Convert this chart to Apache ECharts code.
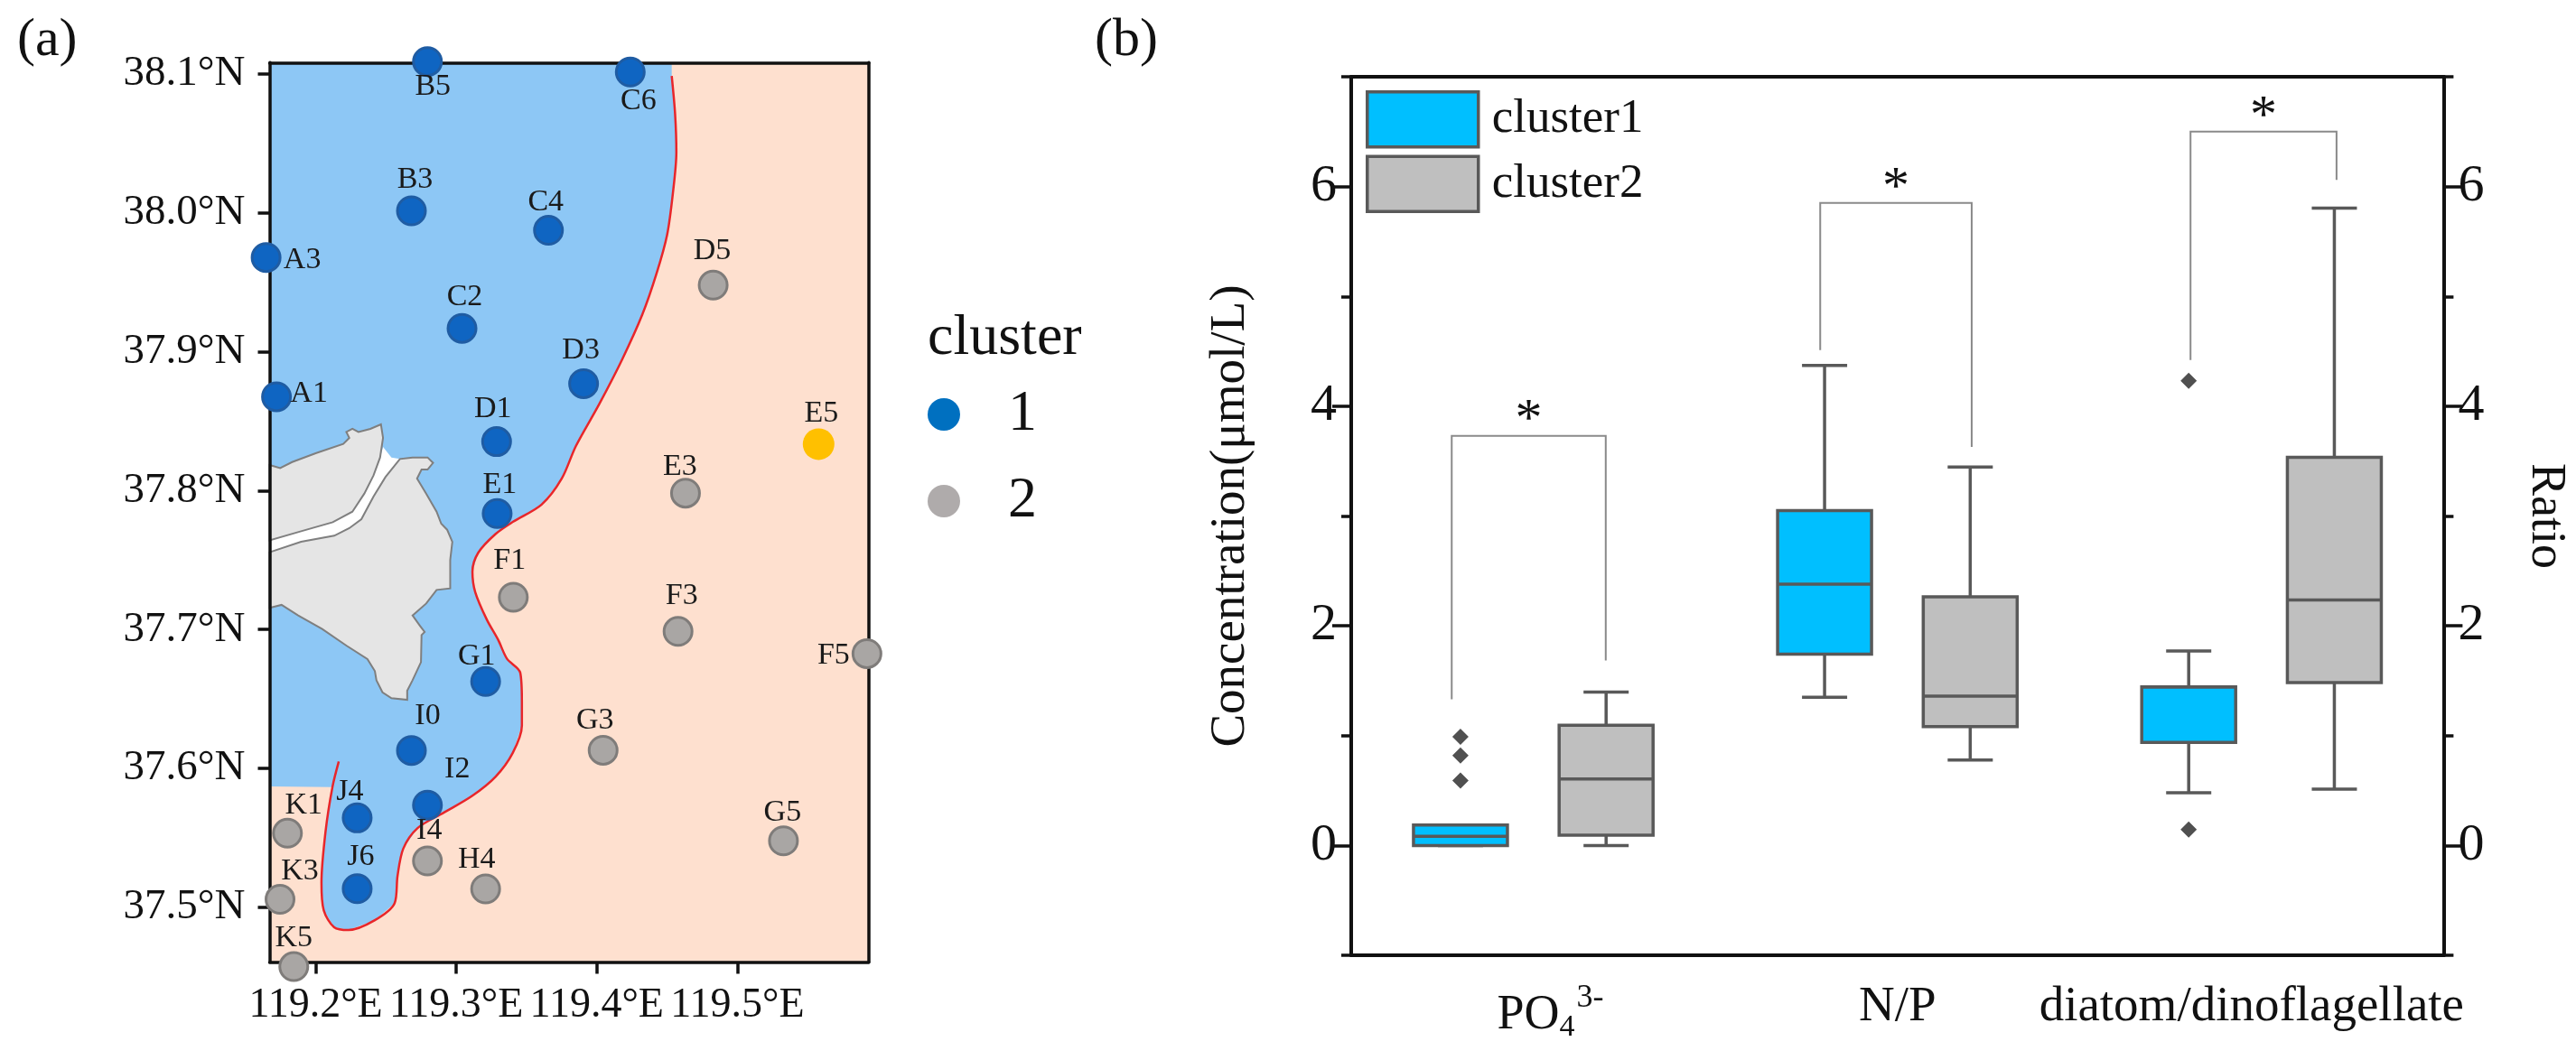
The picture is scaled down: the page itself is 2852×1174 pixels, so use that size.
<!DOCTYPE html>
<html>
<head>
<meta charset="utf-8">
<title>cluster map and boxplot</title>
<script src="https://cdn.jsdelivr.net/npm/echarts@6/dist/echarts.min.js"></script>
<style>
  html, body { margin: 0; padding: 0; background: #fff; }
  #chart { width: 2852px; height: 1174px; }
</style>
</head>
<body>
<div id="chart"></div>
<script>
const SERIF = '"Liberation Serif", "Times New Roman", serif'

// (a) stations, lon / lat
const cluster1Names = ['B5', 'C6', 'B3', 'C4', 'A3', 'C2', 'D3', 'A1', 'D1', 'E1', 'G1', 'I0', 'I2', 'J4', 'J6']
const cluster1Lon = [119.2795, 119.4238, 119.2681, 119.3656, 119.1647, 119.3041, 119.3906, 119.1721, 119.3287, 119.3291, 119.3209, 119.2681, 119.2795, 119.2295, 119.2295]
const cluster1Lat = [38.1087, 38.1012, 38.0013, 37.9873, 37.9677, 37.9167, 37.8769, 37.8675, 37.8352, 37.7834, 37.6626, 37.6129, 37.5736, 37.5644, 37.5134]

const cluster2Names = ['D5', 'E3', 'F1', 'F3', 'F5', 'G3', 'K1', 'G5', 'I4', 'H4', 'K3', 'K5']
const cluster2Lon = [119.4828, 119.4631, 119.3406, 119.4578, 119.5922, 119.4045, 119.1799, 119.5328, 119.2795, 119.3209, 119.1746, 119.1844]
const cluster2Lat = [37.9478, 37.7981, 37.7232, 37.6986, 37.6826, 37.6131, 37.5534, 37.5479, 37.5334, 37.5133, 37.5058, 37.4574]

const e5Lon = [119.5578]
const e5Lat = [37.8334]

const lonTicks = [119.2, 119.3, 119.4, 119.5]
const latTicks = [37.5, 37.6, 37.7, 37.8, 37.9, 38.0, 38.1]

// red boundary of the blue water mass
const boundaryLon = [119.4533, 119.4557, 119.4566, 119.4541, 119.45, 119.4426, 119.4324, 119.418, 119.4016, 119.3852, 119.375, 119.3607, 119.3402, 119.3279, 119.3156, 119.3115, 119.3135, 119.3217, 119.3299, 119.3361, 119.3455, 119.3467, 119.3467, 119.3402, 119.3279, 119.3115, 119.291, 119.2725, 119.2623, 119.2582, 119.2561, 119.2418, 119.2234, 119.2131, 119.2057, 119.2041, 119.207, 119.2119, 119.2164]
const boundaryLat = [38.0983, 38.0709, 38.0435, 38.0137, 37.9839, 37.9565, 37.9267, 37.8943, 37.862, 37.8322, 37.8085, 37.7899, 37.7774, 37.7687, 37.7552, 37.7416, 37.7269, 37.7072, 37.6924, 37.6789, 37.669, 37.6481, 37.6309, 37.6112, 37.594, 37.5804, 37.5681, 37.5571, 37.5423, 37.5226, 37.5029, 37.4906, 37.4837, 37.4857, 37.498, 37.5177, 37.5546, 37.5866, 37.605]

const landNorth = [[119.1672,37.8184],[119.1747,37.8162],[119.1832,37.8205],[119.2004,37.827],[119.2196,37.8335],[119.2239,37.8379],[119.2218,37.8422],[119.2261,37.8444],[119.2304,37.8422],[119.2389,37.8444],[119.2464,37.8476],[119.2479,37.8379],[119.2458,37.8238],[119.2411,37.8108],[119.2346,37.7978],[119.2261,37.7848],[119.2121,37.7772],[119.1896,37.7707],[119.1672,37.7642]]
const landSouth = [[119.1672,37.7556],[119.1896,37.7631],[119.2132,37.7675],[119.2239,37.7729],[119.2325,37.7794],[119.2411,37.7956],[119.2496,37.8097],[119.2599,37.8227],[119.2689,37.8238],[119.2796,37.8238],[119.2835,37.8199],[119.2796,37.8151],[119.2753,37.8151],[119.2721,37.8086],[119.2786,37.7978],[119.286,37.7848],[119.2893,37.7761],[119.2935,37.7718],[119.2972,37.7631],[119.2957,37.7501],[119.2957,37.7296],[119.286,37.7285],[119.2786,37.7187],[119.2689,37.7101],[119.2743,37.7025],[119.2775,37.6982],[119.2753,37.696],[119.2749,37.6765],[119.2689,37.6635],[119.2651,37.6559],[119.2651,37.6494],[119.2539,37.6505],[119.2475,37.6548],[119.2432,37.6635],[119.2421,37.67],[119.2368,37.6787],[119.2218,37.6884],[119.2046,37.7003],[119.1875,37.7101],[119.1757,37.7177],[119.1672,37.7155]]
const riverMouth = [[119.2539,37.8238],[119.2479,37.8314]]

// (b) box values
const categories = ['PO43-', 'N/P', 'diatom/dinoflagellate']
const cluster1Low = [0, 1.35, 0.479]
const cluster1Q1 = [0, 1.742, 0.939]
const cluster1Median = [0.084, 2.38, 1.444]
const cluster1Q3 = [0.186, 3.05, 1.444]
const cluster1High = [0.186, 4.37, 1.771]

const cluster2Low = [0, 0.777, 0.513]
const cluster2Q1 = [0.093, 1.083, 1.484]
const cluster2Median = [0.606, 1.36, 2.235]
const cluster2Q3 = [1.095, 2.265, 3.534]
const cluster2High = [1.397, 3.446, 5.804]

const outlierCategory = [0, 0, 0, 2, 2]
const outlierValues = [0.99, 0.82, 0.59, 4.232, 0.145]

const bracketLeftX = [-0.224, 0.788, 1.805]
const bracketRightX = [0.199, 1.204, 2.206]
const bracketTop = [3.73, 5.85, 6.5]
const bracketLeftEnd = [1.33, 4.51, 4.42]
const bracketRightEnd = [1.685, 3.63, 6.06]

const majorTicks = [0, 2, 4, 6]

// label nudges in px
const labelOffsets = {
  B5: [6, 28], C6: [9, 32], B3: [4, -34], C4: [-3, -31], A3: [40, 3], D5: [-1, -38], C2: [3, -35],
  D3: [-3, -37], A1: [36, -3], D1: [-4, -36], E5: [3, -34], E3: [-6, -29], E1: [3, -32], F1: [-4, -40],
  F3: [4, -39], F5: [-37, 2], G1: [-10, -28], I0: [18, -38], G3: [-9, -33], I2: [33, -40], J4: [-8, -29],
  K1: [18, -31], G5: [-1, -31], I4: [2, -33], H4: [-10, -32], J6: [4, -35], K3: [22, -31], K5: [0, -31]
}

const stationData = (names, lon, lat) =>
  names.map((name, i) => ({
    name,
    value: [lon[i], lat[i]],
    label: { offset: labelOffsets[name] }
  }))

const stationLabel = {
  show: true,
  position: 'inside',
  formatter: '{b}',
  fontFamily: SERIF,
  fontSize: 34,
  color: '#1a1a1a'
}

const polygonSeries = (name, points, fill, stroke, z) => ({
  name,
  type: 'custom',
  coordinateSystem: 'cartesian2d',
  xAxisIndex: 0,
  yAxisIndex: 0,
  z,
  silent: true,
  data: [0],
  renderItem: (params, api) => ({
    type: 'polygon',
    shape: { points: points.map((p) => api.coord(p)) },
    style: { fill, stroke: stroke || null, lineWidth: stroke ? 2 : 0 }
  })
})

const blueArea = [[119.1672, 38.108], [119.4533, 38.108]]
  .concat(boundaryLon.slice(0, -1).map((lon, i) => [lon, boundaryLat[i]]))
  .concat([[119.1672, 37.5871]])

const riverArea = landNorth.slice(12).concat(landSouth.slice(0, 8)).concat(riverMouth)

const boxSeries = (name, xShift, low, q1, median, q3, high, fill) => ({
  name,
  type: 'custom',
  coordinateSystem: 'cartesian2d',
  xAxisIndex: 3,
  yAxisIndex: 2,
  z: 3,
  itemStyle: { color: fill, borderColor: '#595959', borderWidth: 3 },
  data: categories.map((c, i) => [i + xShift, low[i], q1[i], median[i], q3[i], high[i]]),
  encode: { x: 0, y: [1, 2, 3, 4, 5] },
  renderItem: (params, api) => {
    const x = api.value(0)
    const halfBox = 0.129
    const halfCap = 0.062
    const line = (x1, y1, x2, y2) => {
      const a = api.coord([x1, y1])
      const b = api.coord([x2, y2])
      return {
        type: 'line',
        shape: { x1: a[0], y1: a[1], x2: b[0], y2: b[1] },
        style: { stroke: '#595959', lineWidth: 3.5 }
      }
    }
    const tl = api.coord([x - halfBox, api.value(4)])
    const br = api.coord([x + halfBox, api.value(2)])
    return {
      type: 'group',
      children: [
        line(x, api.value(1), x, api.value(5)),
        line(x - halfCap, api.value(1), x + halfCap, api.value(1)),
        line(x - halfCap, api.value(5), x + halfCap, api.value(5)),
        {
          type: 'rect',
          shape: { x: tl[0], y: tl[1], width: br[0] - tl[0], height: br[1] - tl[1] },
          style: { fill, stroke: '#595959', lineWidth: 3.5 }
        },
        line(x - halfBox, api.value(3), x + halfBox, api.value(3))
      ]
    }
  }
})

const chart = echarts.init(document.getElementById('chart'), null, { renderer: 'canvas' })

const option = {
  animation: false,
  backgroundColor: '#fff',
  textStyle: { fontFamily: SERIF, color: '#111' },
  title: [
    { text: '(a)', left: 14, top: 10, textStyle: { fontFamily: SERIF, fontSize: 60, fontWeight: 'normal', color: '#111' } },
    { text: '(b)', left: 1207, top: 10, textStyle: { fontFamily: SERIF, fontSize: 60, fontWeight: 'normal', color: '#111' } },
    { text: 'cluster', left: 1022, top: 338, textStyle: { fontFamily: SERIF, fontSize: 64, fontWeight: 'normal', color: '#111' } }
  ],
  legend: [
    {
      orient: 'vertical',
      left: 1022,
      top: 422,
      itemWidth: 36,
      itemHeight: 36,
      itemGap: 32,
      icon: 'circle',
      selectedMode: false,
      textStyle: { fontFamily: SERIF, fontSize: 64, color: '#111', padding: [0, 0, 0, 48] },
      data: [
        { name: '1', itemStyle: { color: '#0070C0', borderWidth: 0 } },
        { name: '2', itemStyle: { color: '#AFABAB', borderWidth: 0 } }
      ]
    },
    {
      orient: 'vertical',
      left: 1507,
      top: 95,
      itemWidth: 123,
      itemHeight: 61,
      itemGap: 7,
      icon: 'rect',
      selectedMode: false,
      textStyle: { fontFamily: SERIF, fontSize: 53, color: '#111', padding: [0, 0, 0, 10] },
      data: [
        { name: 'cluster1', itemStyle: { color: '#00BFFF', borderColor: '#595959', borderWidth: 3.5 } },
        { name: 'cluster2', itemStyle: { color: '#BFBFBF', borderColor: '#595959', borderWidth: 3.5 } }
      ]
    }
  ],
  grid: [
    { left: 298.5, top: 69.3, width: 663.2, height: 996.3, show: true, backgroundColor: '#FEE0CF', borderWidth: 0 },
    { left: 1496, top: 85, width: 1209.4, height: 973 }
  ],
  xAxis: [
    {
      type: 'value',
      gridIndex: 0,
      position: 'bottom',
      min: 119.1672,
      max: 119.5934,
      z: 5,
      splitLine: { show: false },
      axisLine: { onZero: false, lineStyle: { color: '#111', width: 3.5 } },
      axisTick: { customValues: lonTicks, length: 13, lineStyle: { color: '#111', width: 3.5 } },
      axisLabel: {
        customValues: lonTicks,
        margin: 25,
        fontFamily: SERIF,
        fontSize: 46,
        color: '#111',
        formatter: (v) => v.toFixed(1) + '°E'
      }
    },
    {
      type: 'value',
      gridIndex: 0,
      position: 'top',
      min: 119.1672,
      max: 119.5934,
      z: 5,
      splitLine: { show: false },
      axisLine: { onZero: false, lineStyle: { color: '#111', width: 3.5 } },
      axisTick: { show: false },
      axisLabel: { show: false }
    },
    {
      type: 'category',
      gridIndex: 1,
      position: 'bottom',
      data: categories,
      axisLine: { onZero: false, lineStyle: { color: '#111', width: 4 } },
      axisTick: { alignWithLabel: true, length: 20, lineStyle: { color: '#111', width: 3.5 } },
      axisLabel: {
        margin: 30,
        fontFamily: SERIF,
        fontSize: 55,
        color: '#111',
        interval: 0,
        formatter: (v) => {
          if (v === categories[0]) return '{po|PO}{sub|4}{sup|3-}'
          if (v === categories[2]) return '{shift|' + v + '}'
          return v
        },
        rich: {
          po: { fontFamily: SERIF, fontSize: 54, color: '#111', padding: [0, 0, 0, 38] },
          sub: { fontFamily: SERIF, fontSize: 34, color: '#111', padding: [26, 0, 0, 0] },
          sup: { fontFamily: SERIF, fontSize: 36, color: '#111', padding: [0, 0, 38, 2] },
          shift: { fontFamily: SERIF, fontSize: 55, color: '#111', padding: [0, 22, 0, 0] }
        }
      }
    },
    {
      type: 'value',
      gridIndex: 1,
      position: 'top',
      min: -0.5,
      max: 2.5,
      splitLine: { show: false },
      axisLine: { onZero: false, lineStyle: { color: '#111', width: 4 } },
      axisTick: { show: false },
      axisLabel: { show: false }
    }
  ],
  yAxis: [
    {
      type: 'value',
      gridIndex: 0,
      position: 'left',
      min: 37.4606,
      max: 38.108,
      z: 5,
      splitLine: { show: false },
      axisLine: { onZero: false, lineStyle: { color: '#111', width: 3.5 } },
      axisTick: { customValues: latTicks, length: 13, lineStyle: { color: '#111', width: 3.5 } },
      axisLabel: {
        customValues: latTicks,
        margin: 27,
        fontFamily: SERIF,
        fontSize: 47,
        color: '#111',
        formatter: (v) => v.toFixed(1) + '°N'
      }
    },
    {
      type: 'value',
      gridIndex: 0,
      position: 'right',
      min: 37.4606,
      max: 38.108,
      z: 5,
      splitLine: { show: false },
      axisLine: { onZero: false, lineStyle: { color: '#111', width: 3.5 } },
      axisTick: { show: false },
      axisLabel: { show: false }
    },
    {
      type: 'value',
      gridIndex: 1,
      position: 'left',
      min: -1,
      max: 7,
      name: 'Concentration(μmol/L)',
      nameLocation: 'middle',
      nameGap: 106,
      nameRotate: 90,
      nameTextStyle: { fontFamily: SERIF, fontSize: 55, color: '#111' },
      splitLine: { show: false },
      axisLine: { onZero: false, lineStyle: { color: '#111', width: 4 } },
      axisTick: { customValues: majorTicks, length: 21, lineStyle: { color: '#111', width: 3.5 } },
      axisLabel: { customValues: majorTicks, margin: 16, fontFamily: SERIF, fontSize: 58, color: '#111' }
    },
    {
      type: 'value',
      gridIndex: 1,
      position: 'left',
      min: -1,
      max: 7,
      interval: 1,
      splitLine: { show: false },
      axisLine: { show: false, onZero: false },
      axisTick: { length: 11, lineStyle: { color: '#111', width: 3.5 } },
      axisLabel: { show: false }
    },
    {
      type: 'value',
      gridIndex: 1,
      position: 'right',
      min: -1,
      max: 7,
      name: 'Ratio',
      nameLocation: 'middle',
      nameGap: 86,
      nameRotate: -90,
      nameTextStyle: { fontFamily: SERIF, fontSize: 54, color: '#111' },
      splitLine: { show: false },
      axisLine: { onZero: false, lineStyle: { color: '#111', width: 4 } },
      axisTick: { customValues: majorTicks, length: 21, lineStyle: { color: '#111', width: 3.5 } },
      axisLabel: { customValues: majorTicks, margin: 16, fontFamily: SERIF, fontSize: 58, color: '#111' }
    },
    {
      type: 'value',
      gridIndex: 1,
      position: 'right',
      min: -1,
      max: 7,
      interval: 1,
      splitLine: { show: false },
      axisLine: { show: false, onZero: false },
      axisTick: { length: 11, lineStyle: { color: '#111', width: 3.5 } },
      axisLabel: { show: false }
    }
  ],
  series: [
    polygonSeries('water', blueArea, '#8DC7F5', null, 1),
    polygonSeries('river', riverArea, '#FFFFFF', null, 1),
    polygonSeries('land north', landNorth, '#E5E5E5', '#7f7f7f', 1),
    polygonSeries('land south', landSouth, '#E5E5E5', '#7f7f7f', 1),
    {
      name: 'boundary',
      type: 'line',
      xAxisIndex: 0,
      yAxisIndex: 0,
      z: 2,
      smooth: 0.3,
      showSymbol: false,
      silent: true,
      lineStyle: { color: '#E8262A', width: 2.5 },
      data: boundaryLon.map((lon, i) => [lon, boundaryLat[i]])
    },
    {
      name: '1',
      type: 'scatter',
      xAxisIndex: 0,
      yAxisIndex: 0,
      z: 6,
      symbolSize: 31,
      clip: false,
      itemStyle: { color: '#0F65C2', borderColor: '#1F5CA3', borderWidth: 3, opacity: 1 },
      label: stationLabel,
      data: stationData(cluster1Names, cluster1Lon, cluster1Lat)
    },
    {
      name: '2',
      type: 'scatter',
      xAxisIndex: 0,
      yAxisIndex: 0,
      z: 6,
      symbolSize: 31,
      clip: false,
      itemStyle: { color: '#A9A6A4', borderColor: '#7F7C7A', borderWidth: 3, opacity: 1 },
      label: stationLabel,
      data: stationData(cluster2Names, cluster2Lon, cluster2Lat)
    },
    {
      name: 'E5',
      type: 'scatter',
      xAxisIndex: 0,
      yAxisIndex: 0,
      z: 6,
      symbolSize: 35,
      itemStyle: { color: '#FFC000', opacity: 1 },
      label: stationLabel,
      data: stationData(['E5'], e5Lon, e5Lat)
    },
    boxSeries('cluster1', -0.2, cluster1Low, cluster1Q1, cluster1Median, cluster1Q3, cluster1High, '#00BFFF'),
    boxSeries('cluster2', 0.2, cluster2Low, cluster2Q1, cluster2Median, cluster2Q3, cluster2High, '#BFBFBF'),
    {
      name: 'outliers',
      type: 'scatter',
      xAxisIndex: 3,
      yAxisIndex: 2,
      z: 4,
      symbol: 'diamond',
      symbolSize: 18,
      itemStyle: { color: '#505050', opacity: 1 },
      data: outlierValues.map((v, i) => [outlierCategory[i] - 0.2, v])
    },
    {
      name: 'brackets',
      type: 'custom',
      coordinateSystem: 'cartesian2d',
      xAxisIndex: 3,
      yAxisIndex: 2,
      z: 4,
      silent: true,
      data: bracketTop.map((top, i) => [bracketLeftX[i], bracketRightX[i], top, bracketLeftEnd[i], bracketRightEnd[i]]),
      encode: { x: [0, 1], y: [2, 3, 4] },
      renderItem: (params, api) => {
        const a = api.coord([api.value(0), api.value(3)])
        const b = api.coord([api.value(0), api.value(2)])
        const c = api.coord([api.value(1), api.value(2)])
        const d = api.coord([api.value(1), api.value(4)])
        return {
          type: 'group',
          children: [
            {
              type: 'polyline',
              shape: { points: [a, b, c, d] },
              style: { fill: null, stroke: '#8a8a8a', lineWidth: 2 }
            },
            {
              type: 'text',
              style: {
                x: (b[0] + c[0]) / 2,
                y: b[1] - 16,
                text: '*',
                fill: '#111',
                font: '60px ' + SERIF,
                align: 'center',
                verticalAlign: 'middle'
              }
            }
          ]
        }
      }
    }
  ]
}

chart.setOption(option)
</script>
</body>
</html>
